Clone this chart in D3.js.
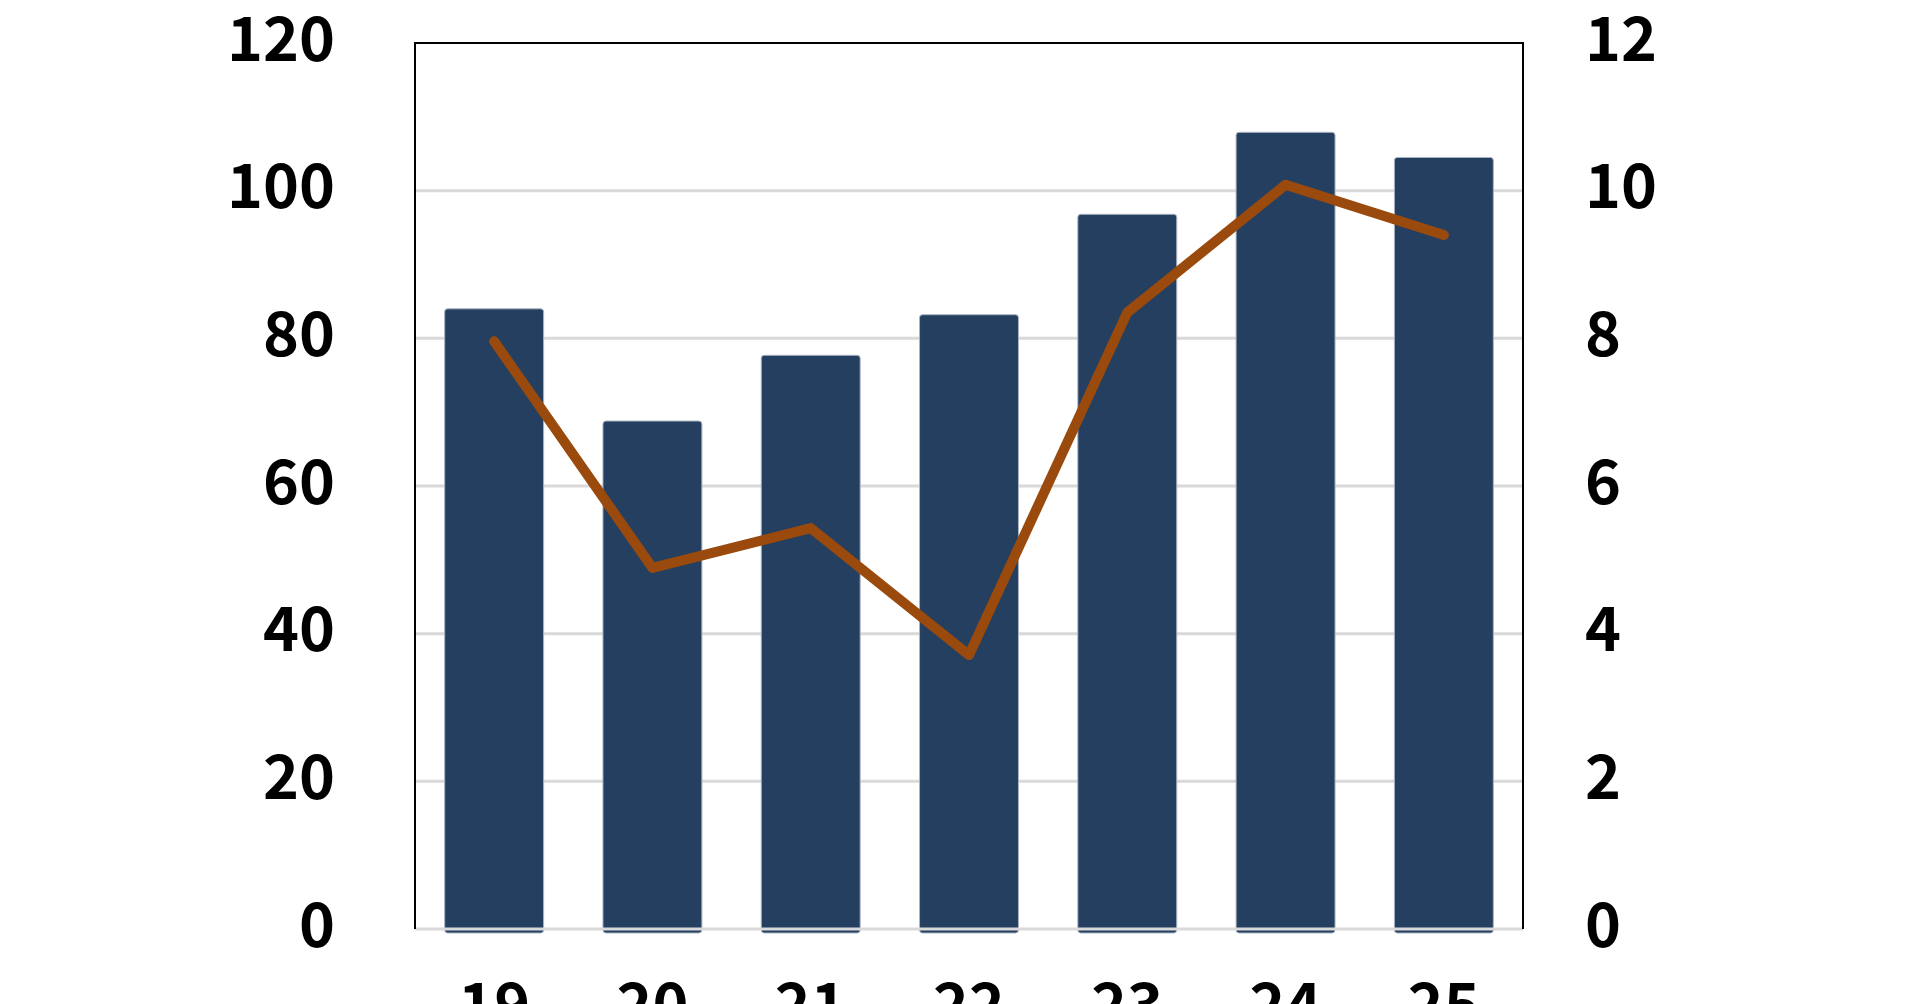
<!DOCTYPE html>
<html>
<head>
<meta charset="utf-8">
<script src="https://cdn.jsdelivr.net/npm/d3@7/dist/d3.min.js"></script>
<style>
  html, body { margin: 0; padding: 0; background: #fff; overflow: hidden; }
  svg { display: block; }
  text { font-family: "Noto Sans CJK JP", "Noto Sans", sans-serif; font-weight: 700; fill: #000; }
</style>
</head>
<body>
<div id="chart"></div>
<script>
// data
const years = ['19', '20', '21', '22', '23', '24', '25'];
const barValues = [84.0, 68.8, 77.7, 83.2, 96.8, 107.9, 104.5];
const lineValues = [7.96, 4.89, 5.43, 3.71, 8.35, 10.08, 9.40];
const leftTicks = [0, 20, 40, 60, 80, 100, 120];
const rightTicks = [0, 2, 4, 6, 8, 10, 12];

const width = 1920;
const height = 1004;
const plot = { left: 415, right: 1523, top: 43, bottom: 929 };
const fontSize = 61;

const svg = d3.select('#chart')
  .append('svg')
  .attr('width', width)
  .attr('height', height)
  .attr('viewBox', [0, 0, width, height]);

const x = d3.scaleBand()
  .domain(years)
  .range([plot.left, plot.right])
  .paddingInner(0.375)
  .paddingOuter(0.1875);

const yLeft = d3.scaleLinear().domain([0, 120]).range([plot.bottom, plot.top]);
const yRight = d3.scaleLinear().domain([0, 12]).range([plot.bottom, plot.top]);

// gridlines behind the bars (skip top, the frame sits there; zero line drawn later)
svg.append('g')
  .selectAll('line')
  .data(leftTicks.filter((t) => t > 0 && t < 120))
  .join('line')
  .attr('x1', plot.left)
  .attr('x2', plot.right)
  .attr('y1', (d) => yLeft(d))
  .attr('y2', (d) => yLeft(d))
  .attr('stroke', '#d9d9d9')
  .attr('stroke-width', 3);

svg.append('g')
  .selectAll('rect')
  .data(barValues)
  .join('rect')
  .attr('x', (d, i) => x(years[i]))
  .attr('width', x.bandwidth())
  .attr('y', (d) => yLeft(d))
  .attr('height', (d) => yLeft(0) - yLeft(d) + 4)
  .attr('rx', 3)
  .attr('fill', '#243f60')
  .attr('stroke', '#aab4c2')
  .attr('stroke-width', 1);

// zero line sits over the bar bottoms
svg.append('line')
  .attr('x1', plot.left)
  .attr('x2', plot.right)
  .attr('y1', yLeft(0))
  .attr('y2', yLeft(0))
  .attr('stroke', '#d9d9d9')
  .attr('stroke-width', 3);

// frame: top, left, right in black
svg.append('path')
  .attr('d', `M${plot.left},${plot.bottom}V${plot.top}H${plot.right}V${plot.bottom}`)
  .attr('fill', 'none')
  .attr('stroke', '#000')
  .attr('stroke-width', 2);

// line series on the right axis
const line = d3.line()
  .x((d, i) => x(years[i]) + x.bandwidth() / 2)
  .y((d) => yRight(d));

svg.append('path')
  .datum(lineValues)
  .attr('d', line)
  .attr('fill', 'none')
  .attr('stroke', '#9a4a0c')
  .attr('stroke-width', 10)
  .attr('stroke-linejoin', 'round')
  .attr('stroke-linecap', 'round');

// axes
function styleAxis(g) {
  g.select('.domain').remove();
  g.selectAll('.tick line').remove();
  g.selectAll('text')
    .style('font-size', `${fontSize}px`)
    .style('font-weight', 700)
    .attr('fill', '#000');
}

svg.append('g')
  .attr('transform', `translate(${plot.left},0)`)
  .call(d3.axisLeft(yLeft).tickValues(leftTicks).tickSize(0).tickPadding(80))
  .call(styleAxis)
  .selectAll('text').attr('dy', '0.28em');

svg.append('g')
  .attr('transform', `translate(${plot.right},0)`)
  .call(d3.axisRight(yRight).tickValues(rightTicks).tickSize(0).tickPadding(62))
  .call(styleAxis)
  .selectAll('text').attr('dy', '0.28em');

svg.append('g')
  .attr('transform', `translate(0,${plot.bottom})`)
  .call(d3.axisBottom(x).tickSize(0).tickPadding(55))
  .call(styleAxis);
</script>
</body>
</html>
